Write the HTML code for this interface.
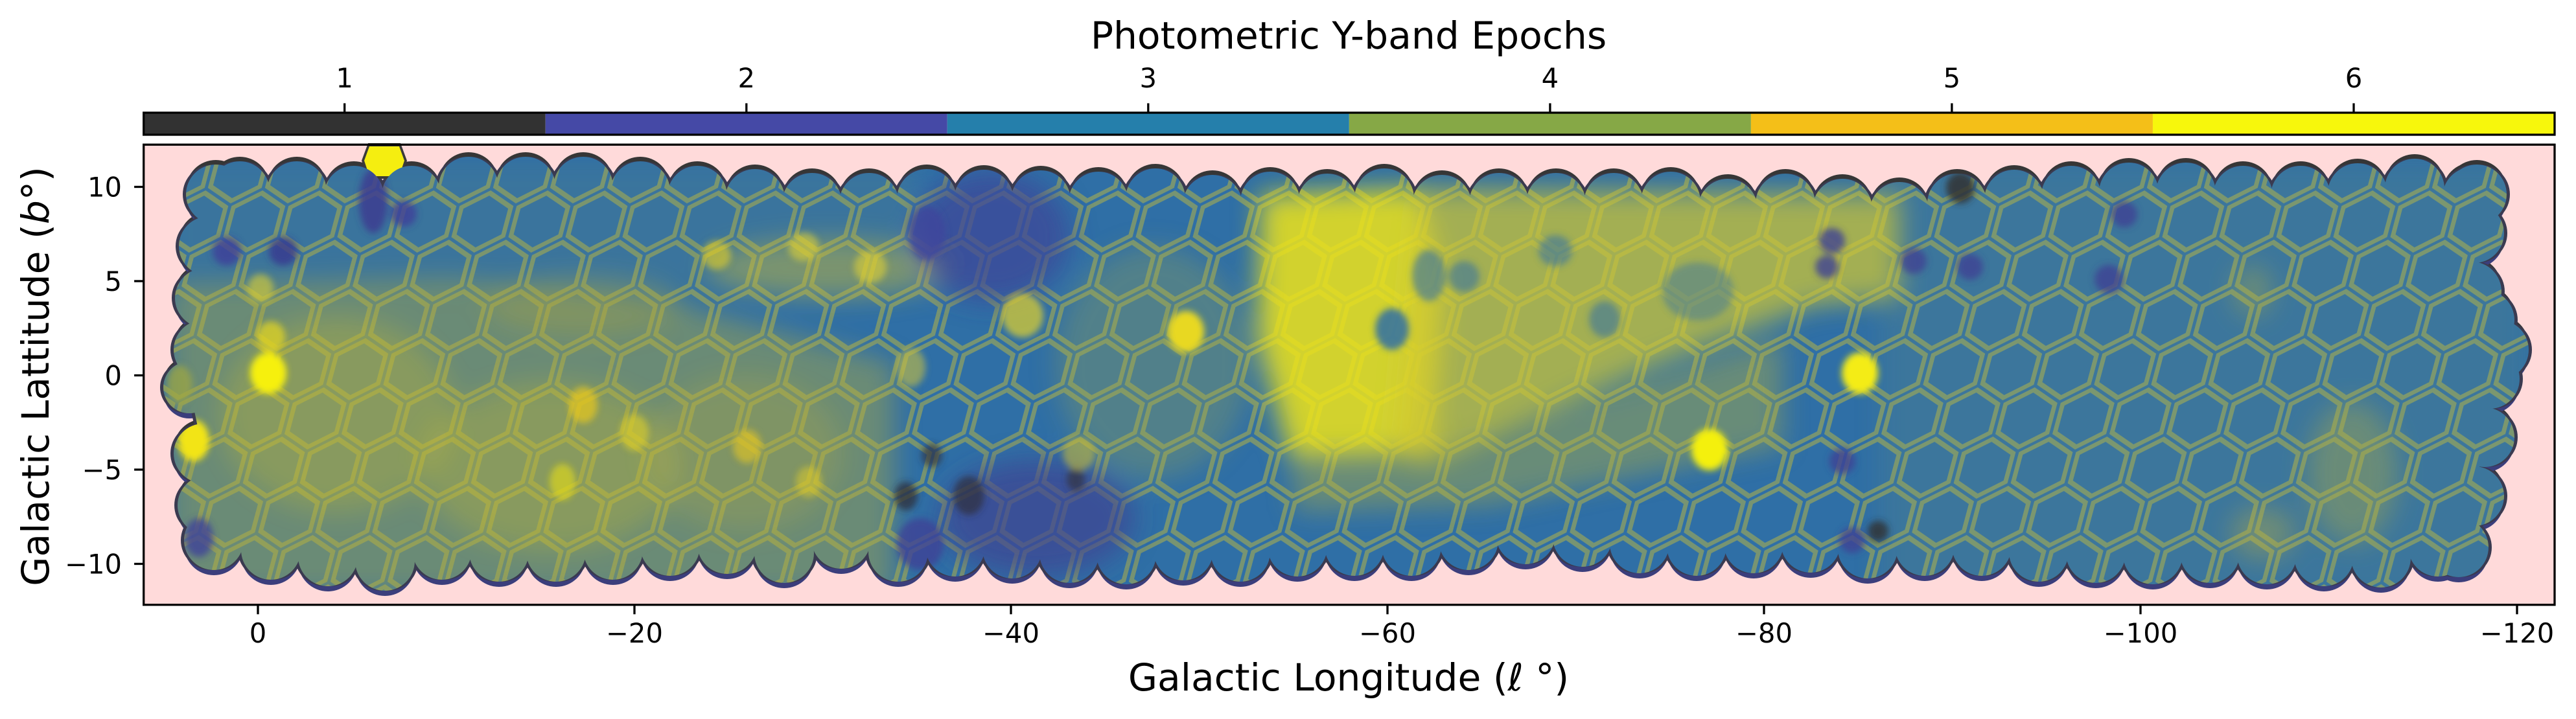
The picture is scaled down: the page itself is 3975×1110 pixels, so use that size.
<!DOCTYPE html>
<html><head><meta charset="utf-8"><style>
html,body{margin:0;padding:0;background:#fff;}
svg{display:block;}
text{font-family:"DejaVu Sans","Liberation Sans",sans-serif;fill:#000;}
</style></head><body>
<svg width="3975" height="1110" viewBox="0 0 3975 1110" xmlns="http://www.w3.org/2000/svg">
<defs>
<g id="sh">
<polygon points="333,300 370,295 458,295 546,302 635,302 723,288 811,288 900,288 988,295 1076,302 1165,307 1253,313 1341,313 1430,307 1518,308 1606,309 1695,311 1783,306 1871,316 1960,311 2048,314 2136,306 2225,316 2313,313 2401,313 2490,313 2578,311 2666,322 2755,314 2843,322 2931,327 3020,314 3108,308 3196,302 3285,297 3373,297 3461,302 3550,302 3638,298 3726,291 3815,304 3822,300 3818,360 3814,450 3834,494 3856,540 3842,585 3834,675 3818,766 3794,845 3762,844 3674,861 3586,859 3498,856 3410,854 3322,856 3234,854 3146,852 3058,843 2970,843 2882,847 2794,838 2706,839 2618,843 2530,839 2442,829 2354,825 2266,834 2178,843 2090,843 2002,844 1914,852 1826,850 1738,856 1650,854 1562,847 1474,844 1386,852 1298,832 1210,854 1122,840 1034,843 946,849 858,852 770,852 682,849 594,866 506,859 418,849 330,834 320,780 314,700 292,598 314,540 316,460 322,380"/>
<circle cx="370" cy="295" r="46"/><circle cx="458" cy="295" r="46"/><circle cx="546" cy="302" r="46"/><circle cx="635" cy="302" r="46"/>
<circle cx="723" cy="288" r="46"/><circle cx="811" cy="288" r="46"/><circle cx="900" cy="288" r="46"/><circle cx="988" cy="295" r="46"/>
<circle cx="1076" cy="302" r="46"/><circle cx="1165" cy="307" r="46"/><circle cx="1253" cy="313" r="46"/><circle cx="1341" cy="313" r="46"/>
<circle cx="1430" cy="307" r="46"/><circle cx="1518" cy="308" r="46"/><circle cx="1606" cy="309" r="46"/><circle cx="1695" cy="311" r="46"/>
<circle cx="1783" cy="306" r="46"/><circle cx="1871" cy="316" r="46"/><circle cx="1960" cy="311" r="46"/><circle cx="2048" cy="314" r="46"/>
<circle cx="2136" cy="306" r="46"/><circle cx="2225" cy="316" r="46"/><circle cx="2313" cy="313" r="46"/><circle cx="2401" cy="313" r="46"/>
<circle cx="2490" cy="313" r="46"/><circle cx="2578" cy="311" r="46"/><circle cx="2666" cy="322" r="46"/><circle cx="2755" cy="314" r="46"/>
<circle cx="2843" cy="322" r="46"/><circle cx="2931" cy="327" r="46"/><circle cx="3020" cy="314" r="46"/><circle cx="3108" cy="308" r="46"/>
<circle cx="3196" cy="302" r="46"/><circle cx="3285" cy="297" r="46"/><circle cx="3373" cy="297" r="46"/><circle cx="3461" cy="302" r="46"/>
<circle cx="3550" cy="302" r="46"/><circle cx="3638" cy="298" r="46"/><circle cx="3726" cy="291" r="46"/><circle cx="3815" cy="304" r="46"/>
<circle cx="3822" cy="300" r="46"/><circle cx="3818" cy="360" r="46"/><circle cx="3814" cy="450" r="46"/><circle cx="3834" cy="494" r="46"/>
<circle cx="3856" cy="540" r="46"/><circle cx="3842" cy="585" r="46"/><circle cx="3834" cy="675" r="46"/><circle cx="3818" cy="766" r="46"/>
<circle cx="3794" cy="845" r="46"/><circle cx="3762" cy="844" r="46"/><circle cx="3674" cy="861" r="46"/><circle cx="3586" cy="859" r="46"/>
<circle cx="3498" cy="856" r="46"/><circle cx="3410" cy="854" r="46"/><circle cx="3322" cy="856" r="46"/><circle cx="3234" cy="854" r="46"/>
<circle cx="3146" cy="852" r="46"/><circle cx="3058" cy="843" r="46"/><circle cx="2970" cy="843" r="46"/><circle cx="2882" cy="847" r="46"/>
<circle cx="2794" cy="838" r="46"/><circle cx="2706" cy="839" r="46"/><circle cx="2618" cy="843" r="46"/><circle cx="2530" cy="839" r="46"/>
<circle cx="2442" cy="829" r="46"/><circle cx="2354" cy="825" r="46"/><circle cx="2266" cy="834" r="46"/><circle cx="2178" cy="843" r="46"/>
<circle cx="2090" cy="843" r="46"/><circle cx="2002" cy="844" r="46"/><circle cx="1914" cy="852" r="46"/><circle cx="1826" cy="850" r="46"/>
<circle cx="1738" cy="856" r="46"/><circle cx="1650" cy="854" r="46"/><circle cx="1562" cy="847" r="46"/><circle cx="1474" cy="844" r="46"/>
<circle cx="1386" cy="852" r="46"/><circle cx="1298" cy="832" r="46"/><circle cx="1210" cy="854" r="46"/><circle cx="1122" cy="840" r="46"/>
<circle cx="1034" cy="843" r="46"/><circle cx="946" cy="849" r="46"/><circle cx="858" cy="852" r="46"/><circle cx="770" cy="852" r="46"/>
<circle cx="682" cy="849" r="46"/><circle cx="594" cy="866" r="46"/><circle cx="506" cy="859" r="46"/><circle cx="418" cy="849" r="46"/>
<circle cx="330" cy="834" r="46"/><circle cx="320" cy="780" r="46"/><circle cx="314" cy="700" r="46"/><circle cx="292" cy="598" r="40"/>
<circle cx="314" cy="540" r="46"/><circle cx="316" cy="460" r="46"/><circle cx="322" cy="380" r="46"/><circle cx="333" cy="300" r="46"/>
</g>
<mask id="mk" maskUnits="userSpaceOnUse" x="0" y="0" width="3975" height="1110"><use href="#sh" fill="#fff"/></mask>
<pattern id="hex" patternUnits="userSpaceOnUse" width="88" height="152" patternTransform="skewX(-15)">
<g fill="none" stroke="#cfc232" stroke-width="7" stroke-opacity="0.45">
<polygon points="44,-6 82,16 82,60 44,82 6,60 6,16"/>
<polygon points="44,146 82,168 82,212 44,234 6,212 6,168"/>
<polygon points="0,70 38,92 38,136 0,158 -38,136 -38,92"/>
<polygon points="88,70 126,92 126,136 88,158 50,136 50,92"/>
<polygon points="0,-82 38,-60 38,-16 0,6 -38,-16 -38,-60"/>
<polygon points="88,-82 126,-60 126,-16 88,6 50,-16 50,-60"/>
</g>
</pattern>
<filter id="f1" x="-10%" y="-30%" width="120%" height="160%"><feGaussianBlur stdDeviation="20"/></filter>
<filter id="f2" x="-10%" y="-30%" width="120%" height="160%"><feGaussianBlur stdDeviation="5"/></filter>
</defs>

<text x="2081" y="75" font-size="58.3" text-anchor="middle">Photometric Y-band Epochs</text>

<rect x="221.7" y="174" width="620.05" height="34" fill="#323232"/>
<rect x="841.75" y="174" width="620.05" height="34" fill="#4549a6"/>
<rect x="1461.8" y="174" width="620.05" height="34" fill="#257fab"/>
<rect x="2081.85" y="174" width="620.05" height="34" fill="#86a846"/>
<rect x="2701.9" y="174" width="620.05" height="34" fill="#f4bf18"/>
<rect x="3321.95" y="174" width="620.05" height="34" fill="#f7f70c"/>
<rect x="221.7" y="174" width="3720.3" height="34" fill="none" stroke="#000" stroke-width="3.3"/>
<g stroke="#000" stroke-width="3.3">
<line x1="531.7" y1="159.4" x2="531.7" y2="174"/>
<line x1="1151.8" y1="159.4" x2="1151.8" y2="174"/>
<line x1="1771.8" y1="159.4" x2="1771.8" y2="174"/>
<line x1="2391.9" y1="159.4" x2="2391.9" y2="174"/>
<line x1="3011.9" y1="159.4" x2="3011.9" y2="174"/>
<line x1="3632" y1="159.4" x2="3632" y2="174"/>
</g>
<g font-size="41.7" text-anchor="middle">
<text x="531.7" y="135">1</text>
<text x="1151.8" y="135">2</text>
<text x="1771.8" y="135">3</text>
<text x="2391.9" y="135">4</text>
<text x="3011.9" y="135">5</text>
<text x="3632" y="135">6</text>
</g>

<rect x="221.7" y="223.3" width="3720.3" height="710.4" fill="#ffdada"/>

<use href="#sh" transform="translate(0,-7)" fill="#363636"/>
<use href="#sh" transform="translate(0,8)" fill="#3b3e7c"/>
<use href="#sh" transform="translate(-5,0)" fill="#3a3a50"/>
<use href="#sh" transform="translate(5,0)" fill="#3a3a50"/>
<polygon points="568,221 618,221 628,248 618,276 568,276 558,248" fill="#3a3a3a"/>
<polygon points="570,226 616,226 624,248 616,272 570,272 562,248" fill="#f5ee10"/>

<g mask="url(#mk)">
<rect x="200" y="200" width="3760" height="740" fill="#2f6fa6"/>
<rect x="200" y="200" width="3760" height="740" fill="url(#hex)"/>
<g filter="url(#f1)">
<rect x="2900" y="250" width="1000" height="680" fill="#9aaa50" opacity="0.12"/>
<rect x="260" y="250" width="1150" height="200" fill="#9aaa50" opacity="0.1"/>
<polygon points="260,440 700,430 1050,470 1380,560 1380,920 260,920" fill="#b4ae3a" opacity="0.45"/>
<ellipse cx="520" cy="640" rx="180" ry="150" fill="#ccc030" opacity="0.3"/>
<ellipse cx="850" cy="720" rx="200" ry="130" fill="#ccc030" opacity="0.3"/>
<ellipse cx="1150" cy="700" rx="150" ry="120" fill="#c0b438" opacity="0.25"/>
<ellipse cx="1280" cy="415" rx="190" ry="45" fill="#ccbc34" opacity="0.45"/>
<ellipse cx="900" cy="470" rx="150" ry="45" fill="#b0aa40" opacity="0.35"/>
<ellipse cx="1530" cy="365" rx="120" ry="100" fill="#3f4798" opacity="0.75"/>
<ellipse cx="1600" cy="800" rx="150" ry="90" fill="#3e4592" opacity="0.7"/>
<ellipse cx="1780" cy="560" rx="150" ry="180" fill="#a2aa44" opacity="0.3"/>
<polygon points="1945,300 2185,290 2230,430 2210,700 1990,705 1940,520" fill="#eee41a" opacity="0.85"/>
<polygon points="2190,290 2930,300 2930,460 2800,470 2560,560 2350,650 2200,720 2150,700" fill="#d0c832" opacity="0.72"/>
<polygon points="1990,700 2210,690 2500,600 2750,520 2750,690 2300,780 2000,790" fill="#b0b040" opacity="0.45"/>
<ellipse cx="3630" cy="730" rx="70" ry="110" fill="#b0ac44" opacity="0.4"/>
<ellipse cx="3492" cy="823" rx="50" ry="40" fill="#bcb03c" opacity="0.4"/>
<ellipse cx="3476" cy="449" rx="30" ry="40" fill="#b0ac44" opacity="0.4"/>
</g>
<g filter="url(#f2)">
<ellipse cx="414" cy="576" rx="28" ry="32" fill="#f6f00e"/>
<ellipse cx="299" cy="680" rx="24" ry="32" fill="#f2e418"/>
<ellipse cx="418" cy="520" rx="22" ry="24" fill="#e8d820" opacity="0.7"/>
<ellipse cx="402" cy="445" rx="20" ry="22" fill="#dcd030" opacity="0.6"/>
<ellipse cx="900" cy="625" rx="22" ry="28" fill="#e8c820" opacity="0.7"/>
<ellipse cx="979" cy="668" rx="22" ry="28" fill="#e0d028" opacity="0.6"/>
<ellipse cx="1106" cy="394" rx="22" ry="22" fill="#e8d020" opacity="0.6"/>
<ellipse cx="1240" cy="381" rx="24" ry="22" fill="#e0d030" opacity="0.6"/>
<ellipse cx="1343" cy="412" rx="25" ry="25" fill="#e0d030" opacity="0.6"/>
<ellipse cx="868" cy="744" rx="20" ry="28" fill="#e8e010" opacity="0.6"/>
<ellipse cx="1153" cy="689" rx="22" ry="26" fill="#e8c820" opacity="0.6"/>
<ellipse cx="1248" cy="744" rx="20" ry="24" fill="#e6d020" opacity="0.5"/>
<ellipse cx="1406" cy="567" rx="22" ry="30" fill="#c8c040" opacity="0.6"/>
<ellipse cx="277" cy="594" rx="20" ry="30" fill="#a0a840" opacity="0.7"/>
<ellipse cx="350" cy="388" rx="22" ry="22" fill="#3d3f98" opacity="0.8"/>
<ellipse cx="437" cy="388" rx="22" ry="22" fill="#3a3a8e" opacity="0.8"/>
<ellipse cx="576" cy="310" rx="22" ry="50" fill="#3c3c90" opacity="0.85"/>
<ellipse cx="623" cy="330" rx="20" ry="20" fill="#3d3f98" opacity="0.8"/>
<ellipse cx="307" cy="830" rx="22" ry="30" fill="#404298" opacity="0.8"/>
<ellipse cx="1430" cy="360" rx="28" ry="42" fill="#40469c" opacity="0.8"/>
<ellipse cx="1398" cy="766" rx="18" ry="22" fill="#2e2e3a" opacity="0.75"/>
<ellipse cx="1438" cy="703" rx="16" ry="18" fill="#333340" opacity="0.7"/>
<ellipse cx="1420" cy="840" rx="36" ry="40" fill="#3e4296" opacity="0.8"/>
<ellipse cx="1495" cy="765" rx="24" ry="30" fill="#2f2f3a" opacity="0.7"/>
<ellipse cx="1660" cy="740" rx="14" ry="18" fill="#333340" opacity="0.7"/>
<ellipse cx="1830" cy="512" rx="28" ry="32" fill="#e8d820"/>
<ellipse cx="1578" cy="487" rx="32" ry="34" fill="#d8cc30" opacity="0.75"/>
<ellipse cx="1665" cy="700" rx="25" ry="26" fill="#d0c030" opacity="0.55"/>
<ellipse cx="2148" cy="508" rx="26" ry="32" fill="#2e6ea6" opacity="0.85"/>
<ellipse cx="2205" cy="425" rx="26" ry="40" fill="#3070a5" opacity="0.6"/>
<ellipse cx="2259" cy="427" rx="24" ry="24" fill="#3070a5" opacity="0.55"/>
<ellipse cx="2400" cy="387" rx="26" ry="24" fill="#3070a5" opacity="0.55"/>
<ellipse cx="2476" cy="493" rx="24" ry="28" fill="#3070a5" opacity="0.55"/>
<ellipse cx="2620" cy="450" rx="55" ry="45" fill="#3070a5" opacity="0.45"/>
<ellipse cx="2638" cy="694" rx="28" ry="32" fill="#f4f010"/>
<ellipse cx="2870" cy="576" rx="28" ry="32" fill="#f4ec12"/>
<ellipse cx="2827" cy="372" rx="20" ry="20" fill="#3d4294" opacity="0.8"/>
<ellipse cx="2819" cy="412" rx="18" ry="18" fill="#3d4294" opacity="0.8"/>
<ellipse cx="2953" cy="403" rx="20" ry="20" fill="#3d4294" opacity="0.8"/>
<ellipse cx="3040" cy="412" rx="20" ry="20" fill="#3d4294" opacity="0.8"/>
<ellipse cx="3278" cy="331" rx="20" ry="20" fill="#3d4294" opacity="0.8"/>
<ellipse cx="3254" cy="431" rx="22" ry="22" fill="#3d4294" opacity="0.8"/>
<ellipse cx="2843" cy="712" rx="20" ry="20" fill="#3d4294" opacity="0.8"/>
<ellipse cx="3025" cy="290" rx="22" ry="24" fill="#333333" opacity="0.85"/>
<ellipse cx="2898" cy="820" rx="16" ry="16" fill="#2f2f2f" opacity="0.8"/>
<ellipse cx="2858" cy="834" rx="20" ry="20" fill="#3d4294" opacity="0.8"/>
</g>
</g>

<rect x="221.7" y="223.3" width="3720.3" height="710.4" fill="none" stroke="#000" stroke-width="3.3"/>

<g stroke="#000" stroke-width="3.3">
<line x1="398" y1="933.7" x2="398" y2="948.3"/>
<line x1="979" y1="933.7" x2="979" y2="948.3"/>
<line x1="1560" y1="933.7" x2="1560" y2="948.3"/>
<line x1="2141" y1="933.7" x2="2141" y2="948.3"/>
<line x1="2722" y1="933.7" x2="2722" y2="948.3"/>
<line x1="3303" y1="933.7" x2="3303" y2="948.3"/>
<line x1="3884" y1="933.7" x2="3884" y2="948.3"/>
</g>
<g font-size="41.7" text-anchor="middle">
<text x="398" y="992">0</text>
<text x="979" y="992">−20</text>
<text x="1560" y="992">−40</text>
<text x="2141" y="992">−60</text>
<text x="2722" y="992">−80</text>
<text x="3303" y="992">−100</text>
<text x="3884" y="992">−120</text>
</g>

<g stroke="#000" stroke-width="3.3">
<line x1="207.1" y1="288.5" x2="221.7" y2="288.5"/>
<line x1="207.1" y1="434" x2="221.7" y2="434"/>
<line x1="207.1" y1="579.5" x2="221.7" y2="579.5"/>
<line x1="207.1" y1="725" x2="221.7" y2="725"/>
<line x1="207.1" y1="870.5" x2="221.7" y2="870.5"/>
</g>
<g font-size="41.7" text-anchor="end">
<text x="188" y="303.7">10</text>
<text x="188" y="449.2">5</text>
<text x="188" y="594.7">0</text>
<text x="188" y="740.2">−5</text>
<text x="188" y="885.7">−10</text>
</g>

<text x="2081" y="1066" font-size="58.3" text-anchor="middle">Galactic Longitude (<tspan font-style="italic">ℓ</tspan> °)</text>
<text transform="translate(75,581) rotate(-90)" font-size="58.3" text-anchor="middle">Galactic Lattitude (<tspan font-style="italic">b</tspan>°)</text>
</svg>
</body></html>
